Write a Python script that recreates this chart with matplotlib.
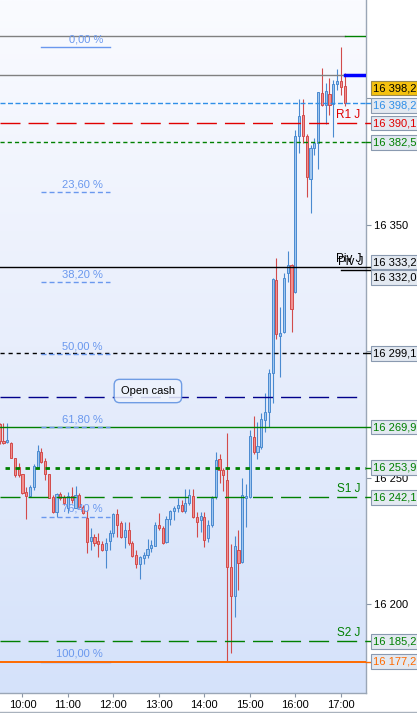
import matplotlib

matplotlib.use("Agg")
import matplotlib.pyplot as plt
import matplotlib.transforms as mtransforms
import numpy as np
from matplotlib.colors import LinearSegmentedColormap
from matplotlib.lines import Line2D

plt.rcParams["font.family"] = ["Liberation Sans", "DejaVu Sans"]
plt.rcParams["lines.scale_dashes"] = False

# 5-minute bars from 09:30 to 17:05
first_bar = "09:30"
opens = [16271.2, 16264.4, 16264.0, 16263.6, 16257.7, 16254.2, 16251.4, 16244.3, 16242.7, 16246.3,
         16254.2, 16260.1, 16256.5, 16251.4, 16242.3, 16236.4, 16243.5, 16242.3, 16238.0, 16242.7,
         16238.0, 16243.1, 16238.3, 16234.0, 16224.9, 16226.5, 16224.9, 16223.7, 16221.3, 16224.9,
         16228.1, 16235.6, 16232.0, 16226.5, 16229.3, 16224.1, 16219.4, 16215.8, 16218.2, 16219.4,
         16222.1, 16222.9, 16231.2, 16230.0, 16224.5, 16233.6, 16236.8, 16238.0, 16239.1, 16236.8,
         16239.9, 16242.7, 16234.4, 16233.2, 16234.4, 16226.1, 16231.2, 16242.3, 16257.3, 16253.0,
         16249.0, 16214.6, 16203.2, 16221.3, 16216.6, 16241.9, 16242.3, 16266.0, 16260.1, 16262.1,
         16272.7, 16275.9, 16291.3, 16328.1, 16305.9, 16307.5, 16330.8, 16334.0, 16323.3, 16385.0,
         16393.3, 16385.0, 16368.0, 16380.3, 16382.2, 16402.0, 16397.3, 16401.6, 16397.6, 16405.6,
         16406.7, 16404.8]
highs = [16271.6, 16271.6, 16271.6, 16264.0, 16257.7, 16255.7, 16251.4, 16246.3, 16247.0, 16255.3,
         16262.9, 16261.7, 16257.7, 16251.4, 16243.1, 16243.9, 16244.3, 16243.1, 16244.3, 16246.3,
         16246.6, 16243.9, 16239.1, 16237.2, 16230.0, 16227.7, 16228.1, 16224.9, 16226.1, 16229.3,
         16236.0, 16237.6, 16232.8, 16232.4, 16232.4, 16224.9, 16221.3, 16219.0, 16220.6, 16225.7,
         16225.3, 16232.4, 16236.0, 16230.8, 16234.8, 16237.2, 16238.7, 16241.9, 16241.1, 16245.5,
         16245.5, 16245.5, 16236.4, 16236.4, 16236.4, 16233.2, 16242.7, 16260.1, 16259.3, 16253.8,
         16267.6, 16223.7, 16226.9, 16229.3, 16249.8, 16247.4, 16268.8, 16274.3, 16271.9, 16275.5,
         16283.4, 16292.9, 16328.9, 16336.8, 16317.4, 16330.8, 16339.5, 16334.4, 16387.4, 16399.6,
         16399.6, 16385.8, 16381.4, 16384.2, 16402.4, 16411.9, 16406.0, 16407.9, 16407.1, 16411.5,
         16420.2, 16409.9]
lows = [16263.2, 16263.2, 16263.6, 16257.7, 16250.2, 16250.2, 16243.5, 16233.6, 16242.3, 16245.1,
        16254.2, 16255.7, 16249.0, 16241.9, 16236.0, 16234.4, 16241.1, 16239.1, 16236.0, 16239.9,
        16238.0, 16238.0, 16235.6, 16220.2, 16221.3, 16222.9, 16218.6, 16221.0, 16214.2, 16221.3,
        16226.5, 16226.5, 16226.1, 16222.1, 16223.3, 16218.6, 16214.2, 16209.9, 16215.8, 16218.2,
        16220.6, 16222.9, 16229.3, 16223.7, 16224.1, 16231.2, 16233.2, 16236.4, 16236.4, 16236.0,
        16239.1, 16234.0, 16226.5, 16228.5, 16222.5, 16224.5, 16230.4, 16241.5, 16247.8, 16244.7,
        16177.2, 16180.6, 16194.9, 16205.5, 16216.2, 16230.4, 16241.9, 16259.3, 16257.3, 16261.3,
        16268.0, 16270.0, 16279.5, 16304.8, 16289.7, 16307.1, 16327.3, 16307.5, 16322.9, 16378.3,
        16382.2, 16360.9, 16354.6, 16377.5, 16372.0, 16396.9, 16389.7, 16393.3, 16384.6, 16403.2,
        16401.2, 16396.9]
closes = [16264.4, 16263.6, 16264.8, 16257.7, 16251.0, 16251.0, 16243.9, 16242.7, 16246.3, 16254.6,
          16260.5, 16256.1, 16251.4, 16241.9, 16236.4, 16243.5, 16241.9, 16239.9, 16242.7, 16241.1,
          16243.1, 16238.3, 16236.0, 16224.5, 16226.5, 16224.1, 16223.7, 16221.3, 16224.1, 16228.1,
          16235.6, 16231.2, 16226.5, 16229.3, 16224.1, 16219.0, 16215.8, 16218.6, 16219.4, 16221.7,
          16223.3, 16231.2, 16230.0, 16224.1, 16233.6, 16236.8, 16238.0, 16239.1, 16236.8, 16239.9,
          16243.1, 16234.4, 16232.4, 16234.8, 16225.3, 16231.2, 16241.9, 16256.9, 16253.0, 16251.0,
          16214.6, 16203.2, 16222.9, 16216.2, 16243.1, 16242.7, 16266.4, 16260.1, 16262.5, 16273.1,
          16275.9, 16291.3, 16328.5, 16306.7, 16307.1, 16328.9, 16334.0, 16316.6, 16385.0, 16392.9,
          16385.0, 16368.8, 16380.3, 16382.2, 16402.4, 16397.3, 16402.8, 16397.3, 16405.6, 16406.7,
          16404.4, 16398.2]

# labelled levels on the price scale
level_prices = [16398.2, 16390.1, 16382.5, 16333.2, 16332.0, 16299.1, 16269.9, 16253.9, 16242.1, 16185.2, 16177.2]
level_colors = ["#2f8fe8", "#e00000", "#008000", "#000000", "#000000", "#000000",
                "#008000", "#008000", "#008000", "#008000", "#ff6a00"]
level_names = ["", "R1 J", "", "Piv J", "Piv J", "", "", "", "S1 J", "S2 J", ""]
last_price = 16398.2

# unlabelled lines
prev_high = 16424.5
prev_close = 16409.1
open_cash = 16281.8

fib_high = 16420.2
fib_low = 16177.2
fib_ratios = [0.0, 23.6, 38.2, 50.0, 61.8, 76.4, 100.0]

price_ticks = [16200, 16250, 16300, 16350, 16400]
price_tick_labels = ["16 200", "16 250", "", "16 350", ""]  # 16 300 / 16 400 sit under tags
hour_ticks = ["10:00", "11:00", "12:00", "13:00", "14:00", "15:00", "16:00", "17:00"]


def to_minutes(hhmm):
    h, m = hhmm.split(":")
    return int(h) * 60 + int(m)


def fmt_price(p):
    return f"{p:,.1f}".replace(",", " ").replace(".", ",")


t0 = to_minutes(first_bar)
x = t0 + 5 * np.arange(len(opens))
o = np.array(opens)
h = np.array(highs)
l = np.array(lows)
c = np.array(closes)

W, H = 417, 713
fig = plt.figure(figsize=(W / 100, H / 100), dpi=100)
fig.patch.set_facecolor("white")
ax = fig.add_axes([0, 20 / H, 366 / W, 693 / H])

xmin, xmax = 570.4, 1053.2
ymin, ymax = 16164.8, 16438.8

bg = LinearSegmentedColormap.from_list("bg", ["#fafbff", "#e8eefc", "#d5e2fa"])
ax.imshow(np.linspace(0, 1, 256).reshape(-1, 1), cmap=bg, extent=[xmin, xmax, ymin, ymax],
          aspect="auto", origin="upper", zorder=0)

# candles
up = c >= o
edge = np.where(up, "#4a8ad0", "#d24b4b")
fill = np.where(up, "#a0c6ef", "#f28f8f")
ax.vlines(x, l, h, colors=edge, lw=0.8, zorder=2)
bottom = np.minimum(o, c)
height = np.maximum(np.abs(c - o), 0.4)
ax.bar(x, height, bottom=bottom, width=2.8, color=fill, edgecolor=edge, lw=0.7, zorder=3)

# horizontal levels
long_dash = (0, (14.4, 5.8))
styles = {
    16398.2: dict(ls=(0, (3.6, 1.8)), lw=1.0),
    16390.1: dict(ls=long_dash, lw=1.0),
    16382.5: dict(ls=(0, (3.0, 2.2)), lw=1.0),
    16333.2: dict(ls="-", lw=1.0),
    16299.1: dict(ls=(0, (3.0, 2.8)), lw=1.0),
    16269.9: dict(ls="-", lw=1.0),
    16253.9: dict(ls=(0, (3.2, 4.0)), lw=2.0),
    16242.1: dict(ls=long_dash, lw=1.0),
    16185.2: dict(ls=long_dash, lw=1.0),
    16177.2: dict(ls="-", lw=1.4),
}
for p, col in zip(level_prices, level_colors):
    if p == 16332.0:
        ax.axhline(p, xmin=341 / 366, xmax=1, color=col, lw=1.0, zorder=5)
        continue
    st = styles[p]
    start = 5 / 366 if p == 16253.9 else 0
    z = 7 if p == 16177.2 else 5
    ax.axhline(p, xmin=start, xmax=1, color=col, ls=st["ls"], lw=st["lw"], zorder=z)

ax.axhline(prev_high, xmax=345 / 366, color="#808080", lw=1.0, zorder=5)
ax.axhline(prev_high, xmin=345 / 366, color="#008000", lw=1.0, zorder=5)
ax.axhline(prev_close, xmax=345 / 366, color="#808080", lw=1.0, zorder=5)
ax.axhline(prev_close, xmin=345 / 366, color="#0000ff", lw=2.5, zorder=5)
ax.axhline(open_cash, xmax=358 / 366, color="#00008b", ls=long_dash, lw=1.0, zorder=5)

# fibonacci retracement
fib_col = "#6a98ee"
for r in fib_ratios:
    lvl = fib_high - r / 100 * (fib_high - fib_low)
    ls = "-" if r in (0.0, 100.0) else (0, (3.6, 2.2))
    ax.axhline(lvl, xmin=41 / 366, xmax=110 / 366, color=fib_col, ls=ls, lw=1.0, zorder=6)
    ax.annotate(f"{r:.2f}".replace(".", ",") + " %", (103 / 366, lvl),
                xycoords=("axes fraction", "data"), xytext=(0, 2), textcoords="offset points",
                ha="right", va="bottom", color=fib_col, fontsize=8, zorder=8)

# level names inside the plot
trans = mtransforms.blended_transform_factory(ax.transAxes, ax.transData)
name_shift = {16333.2: (0, 1.5), 16332.0: (1.5, 1.5)}
for p, col, name in zip(level_prices, level_colors, level_names):
    if not name:
        continue
    dx, dy = name_shift.get(p, (0, 1.5))
    ax.annotate(name, (348.5 / 366, p), xycoords=trans, xytext=(dx, dy), textcoords="offset points",
                ha="center", va="bottom", color=col, fontsize=8.5, zorder=8)

ax.text(765.5, 16284.2, "Open cash", ha="center", va="center", fontsize=8, color="#000000", zorder=9,
        bbox=dict(boxstyle="round,pad=0.6,rounding_size=0.5", fc="#eef3fd", ec="#5a8ee0", lw=1.0, alpha=0.85))

# price tags on the right
tag_shift = {16398.2: -1.2, 16333.2: 2.0, 16332.0: -3.0}
for p, col in zip(level_prices, level_colors):
    ty = p + tag_shift.get(p, 0.0)
    ax.plot([1.0, 1.013], [p, p], transform=trans, color=col, lw=1.0, clip_on=False, zorder=9)
    ax.text(1.0195, ty, fmt_price(p), transform=trans, color=col, fontsize=8, ha="left", va="center",
            clip_on=False, zorder=10,
            bbox=dict(boxstyle="square,pad=0.2", fc="#e3e9f1", ec="#8a9ab0", lw=0.8))
ax.text(1.0195, last_price + 5.8, fmt_price(last_price), transform=trans, color="#000000", fontsize=8,
        ha="left", va="center", clip_on=False, zorder=11,
        bbox=dict(boxstyle="square,pad=0.2", fc="#f5c20f", ec="#9a8a50", lw=0.8))

# axes
ax.set_xlim(xmin, xmax)
ax.set_ylim(ymin, ymax)
ax.yaxis.tick_right()
ax.set_yticks(price_ticks)
ax.set_yticklabels(price_tick_labels)
ax.set_xticks([to_minutes(t) for t in hour_ticks])
ax.set_xticklabels(hour_ticks)
ax.tick_params(axis="y", length=3.5, width=0.8, color="#8a96a6", labelsize=8, pad=2)
ax.tick_params(axis="x", length=3, width=0.8, color="#8a96a6", labelsize=8, pad=2)
for side in ("left", "top"):
    ax.spines[side].set_visible(False)
for side in ("right", "bottom"):
    ax.spines[side].set_color("#9aa6b6")
    ax.spines[side].set_linewidth(1.0)

fig.add_artist(Line2D([0, 1], [0.002, 0.002], transform=fig.transFigure, color="#a9b2bd", lw=1.0))

fig.savefig("out.png", dpi=100)
